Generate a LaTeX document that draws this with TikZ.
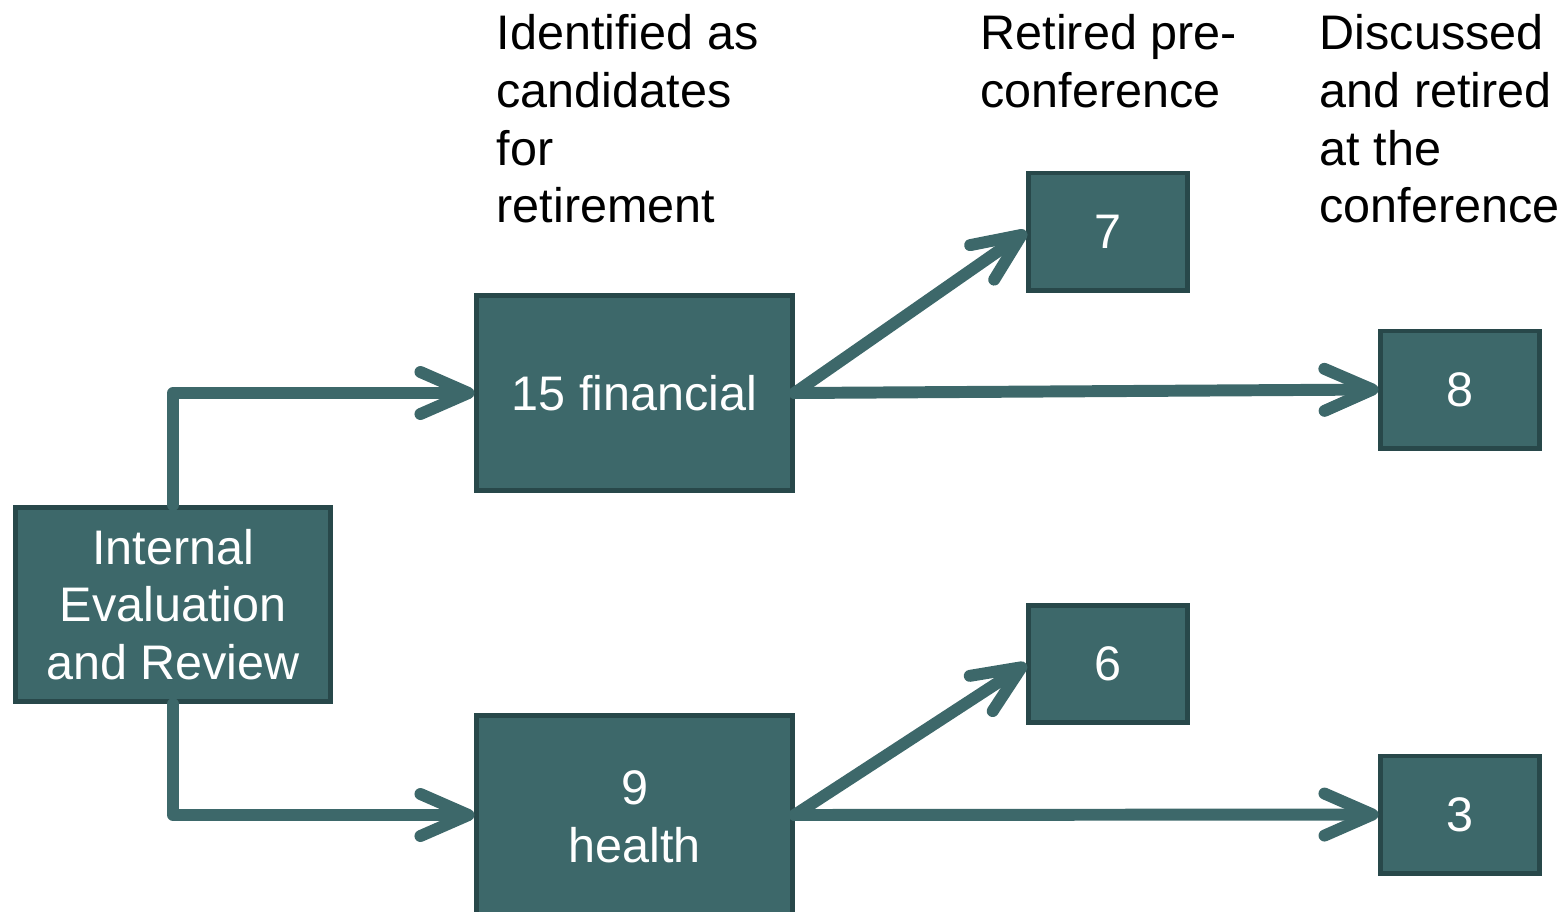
\documentclass[tikz,border=0pt]{standalone}
\usepackage{fontspec}
\setmainfont{Liberation Sans}
\usepackage{tikz}
\usetikzlibrary{arrows.meta}
\definecolor{boxfill}{HTML}{3D686A}
\definecolor{boxline}{HTML}{28484A}
\tikzset{
 box/.style={draw=boxline, fill=boxfill, line width=1.4pt, text=white,
  inner sep=0pt, align=center, font=\fontsize{13.8pt}{16.4pt}\selectfont},
 bigbox/.style={box, minimum width=3.15cm, minimum height=1.94cm},
 smallbox/.style={box, minimum width=1.58cm, minimum height=1.17cm},
 flow/.style={draw=boxfill, line width=3.4pt, line cap=round, line join=round,
  -{Straight Barb[length=0.48cm, width=0.42cm, round]}},
 heading/.style={anchor=north west, align=left, inner sep=0pt,
  font=\fontsize{13.8pt}{16.4pt}\selectfont},
}

\begin{document}
\begin{tikzpicture}[x=0.01cm, y=-0.01cm]
        \useasboundingbox (0,0) rectangle (1562,911);

        % headings
        \node[heading] (hcand) at (496,14) {Identified as\\candidates\\for\\retirement};
        \node[heading] (hpre) at (980,14) {Retired pre-\\conference};
        \node[heading] (hconf) at (1319,14) {Discussed\\and retired\\at the\\conference};

        % boxes
        \node[bigbox] (review) at (173,604.5) {Internal\\Evaluation\\and Review};
        \node[bigbox] (fin) at (634.5,393) {15 financial};
        \node[bigbox, minimum height=2.02cm] (health) at (634.5,817) {9\\health};
        \node[smallbox] (fpre) at (1108,231.5) {7};
        \node[smallbox] (fconf) at (1460,389.5) {8};
        \node[smallbox] (hpre6) at (1108,664) {6};
        \node[smallbox] (hconf3) at (1460,814.5) {3};

        % connectors
        \draw[flow] (review.north) |- (fin.west);
        \draw[flow] (review.south) |- ([yshift=0.02cm]health.west);
        \draw[flow] (fin.east) -- (fpre.west);
        \draw[flow] (fin.east) -- (fconf.west);
        \draw[flow] ([yshift=0.02cm]health.east) -- (hpre6.west);
        \draw[flow] ([yshift=0.02cm]health.east) -- (hconf3.west);
\end{tikzpicture}
\end{document}
